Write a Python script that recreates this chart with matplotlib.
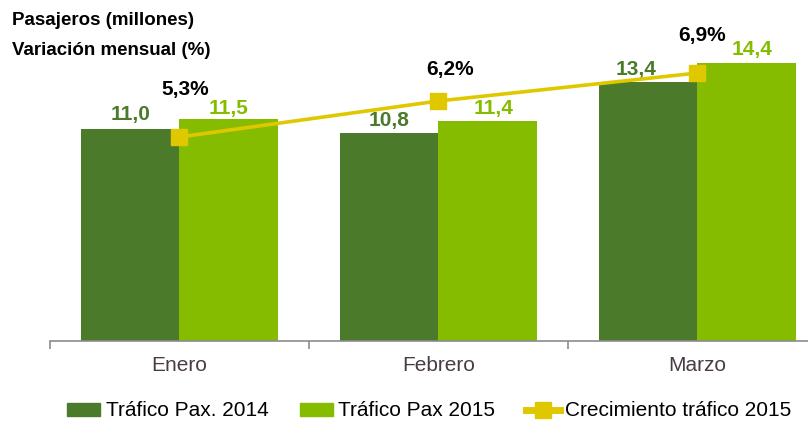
import matplotlib.pyplot as plt
from matplotlib.lines import Line2D
from matplotlib.patches import Patch

# data
meses = ["Enero", "Febrero", "Marzo"]
pax_2014 = [11.0, 10.8, 13.4]
pax_2015 = [11.5, 11.4, 14.4]
crecimiento = [5.3, 6.2, 6.9]

# colours
dark_green = "#4B7A2B"
light_green = "#86BC00"
yellow = "#E0C800"

plt.rcParams["font.family"] = ["Liberation Sans", "DejaVu Sans"]

fig = plt.figure(figsize=(8.08, 4.22), dpi=100)
ax = fig.add_axes([50 / 808, 1 - 341 / 422, 777 / 808, 341 / 422])

x = list(range(len(meses)))
w = 0.38
bars14 = ax.bar([i - w / 2 for i in x], pax_2014, width=w, color=dark_green, zorder=2)
bars15 = ax.bar([i + w / 2 for i in x], pax_2015, width=w, color=light_green, zorder=2)

# label offsets in points (the original nudges a few of them)
off14 = [(0, 6), (0, 4.5), (-9, 5.5)]
off15 = [(0, 4), (4, 5), (4, 5.5)]
for b, v, off in zip(bars14, pax_2014, off14):
    ax.annotate(f"{v:.1f}".replace(".", ","), (b.get_x() + b.get_width() / 2, v),
                xytext=off, textcoords="offset points", ha="center", va="baseline",
                fontsize=15, fontweight="bold", color=dark_green)
for b, v, off in zip(bars15, pax_2015, off15):
    ax.annotate(f"{v:.1f}".replace(".", ","), (b.get_x() + b.get_width() / 2, v),
                xytext=off, textcoords="offset points", ha="center", va="baseline",
                fontsize=15, fontweight="bold", color=light_green)

ax.set_xlim(-0.5, len(meses) - 0.5)
ax.set_ylim(0, 17.67)
ax.set_yticks([])
for s in ["top", "right", "left"]:
    ax.spines[s].set_visible(False)
ax.spines["bottom"].set_color("#8C8C8C")
ax.spines["bottom"].set_linewidth(1.2)
ax.set_xticks(x)
ax.set_xticklabels(meses, fontsize=15, color="#4A3C46")
ax.tick_params(axis="x", which="major", length=0, pad=11)
ax.set_xticks([i - 0.5 for i in x], minor=True)
ax.tick_params(axis="x", which="minor", length=6, color="#8C8C8C", width=1.2)

# secondary axis for monthly growth
ax2 = ax.twinx()
ax2.set_ylim(0.2, 8.725)
ax2.set_axis_off()
ax2.plot(x, crecimiento, color=yellow, linewidth=2.6, marker="s", markersize=11.5,
         markerfacecolor=yellow, markeredgecolor=yellow, zorder=3)
pct_offsets = [(4, 30), (8, 19), (3, 23)]
for i, v in enumerate(crecimiento):
    ax2.annotate(f"{v:.1f}%".replace(".", ","), (x[i], v), xytext=pct_offsets[i],
                 textcoords="offset points", ha="center", va="baseline",
                 fontsize=15, fontweight="bold", color="black")

fig.text(12 / 808, 1 - 25 / 422, "Pasajeros (millones)", fontsize=13.5, fontweight="bold",
         va="baseline", ha="left")
fig.text(12 / 808, 1 - 55 / 422, "Variación mensual (%)", fontsize=13.5, fontweight="bold",
         va="baseline", ha="left")

handles = [Patch(color=dark_green), Patch(color=light_green),
           Line2D([], [], color=yellow, linewidth=5, marker="s", markersize=11)]
labels = ["Tráfico Pax. 2014", "Tráfico Pax 2015", "Crecimiento tráfico 2015"]
fig.legend(handles, labels, loc="center", bbox_to_anchor=(0.531, 1 - 411 / 422), ncol=3,
           frameon=False, fontsize=15, handlelength=1.6, handleheight=0.6,
           handletextpad=0.25, columnspacing=1.5, borderpad=0)

fig.savefig("out.png", dpi=100)
